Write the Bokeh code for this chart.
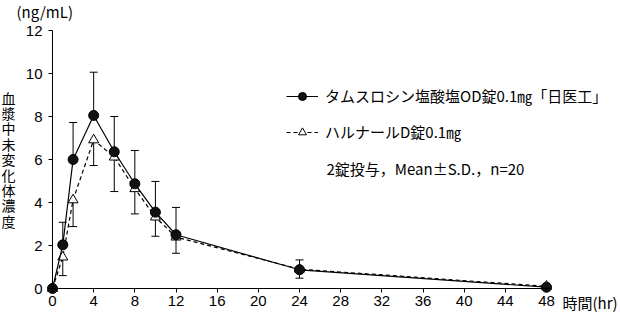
from bokeh.plotting import figure
from bokeh.models import (Range1d, Whisker, TeeHead, ColumnDataSource, Legend,
                          LegendItem, Label, FixedTicker)
from bokeh.embed import file_html
from bokeh.resources import INLINE

# ---- data ----
time_hr = [0, 1, 2, 4, 6, 8, 10, 12, 24, 48]
od_mean = [0.0, 2.03, 6.0, 8.05, 6.36, 4.87, 3.55, 2.5, 0.87, 0.06]
od_sd = [0.0, 1.05, 1.72, 2.01, 1.64, 1.55, 1.43, 1.27, 0.46, 0.0]
harnal_mean = [0.0, 1.46, 4.12, 6.91, 6.11, 4.64, 3.32, 2.39, 0.9, 0.1]
harnal_sd = [0.0, 0.86, 1.24, 1.19, 1.6, 1.17, 0.89, 0.75, 0.42, 0.0]
x_ticks = [0, 4, 8, 12, 16, 20, 24, 28, 32, 36, 40, 44, 48]
y_ticks = [0, 2, 4, 6, 8, 10, 12]
label_od = "タムスロシン塩酸塩OD錠0.1㎎「日医工」"
label_harnal = "ハルナールD錠0.1㎎"
note_text = "2錠投与，Mean±S.D.，n=20"
y_label = "血漿中未変化体濃度"
unit_label = "(ng/mL)"
x_label = "時間(hr)"

JP = "Noto Sans CJK JP"
NUM = "Liberation Sans"

src = ColumnDataSource(dict(
    t=time_hr,
    od=od_mean,
    od_up=[m + s for m, s in zip(od_mean, od_sd)],
    ha=harnal_mean,
    ha_lo=[m - s for m, s in zip(harnal_mean, harnal_sd)],
))

# frame spans the whole canvas; axes are drawn at data zero
X0, XS = 52.0, 494.0 / 48.0      # pixel of x=0, px per hour
Y0, YS = 288.0, 258.0 / 12.0     # pixel of y=0 (from top), px per ng/mL
W, H = 620, 313

p = figure(width=W, height=H, output_backend="svg", toolbar_location=None,
           x_range=Range1d(-X0 / XS, (W - X0) / XS),
           y_range=Range1d(-(H - Y0) / YS, Y0 / YS),
           min_border_left=0, min_border_right=0, min_border_top=0,
           min_border_bottom=0)
p.outline_line_color = None
p.xgrid.visible = False
p.ygrid.visible = False
p.background_fill_color = "white"
p.border_fill_color = "white"

for ax in (p.xaxis[0], p.yaxis[0]):
    ax.axis_line_color = "black"
    ax.axis_line_width = 1
    ax.major_tick_line_color = "black"
    ax.major_tick_out = 4
    ax.major_tick_in = 0
    ax.minor_tick_line_color = None
    ax.major_label_text_font = NUM
    ax.major_label_text_font_size = "15px"
    ax.major_label_text_color = "black"
    ax.fixed_location = 0

p.xaxis[0].ticker = FixedTicker(ticks=x_ticks)
p.yaxis[0].ticker = FixedTicker(ticks=y_ticks)
p.xaxis[0].bounds = (0, 48.4)
p.yaxis[0].bounds = (0, 12)
p.xaxis[0].major_label_standoff = 3
p.yaxis[0].major_label_standoff = 6

# error bars
p.add_layout(Whisker(source=src, base="t", lower="od", upper="od_up",
                     line_color="black", line_width=1, lower_head=None,
                     upper_head=TeeHead(size=8, line_color="black", line_width=1)))
p.add_layout(Whisker(source=src, base="t", lower="ha_lo", upper="ha",
                     line_color="black", line_width=1, upper_head=None,
                     lower_head=TeeHead(size=8, line_color="black", line_width=1)))

l2 = p.line("t", "ha", source=src, line_color="black", line_width=1.2, line_dash="4 3")
s2 = p.scatter("t", "ha", source=src, marker="triangle", size=10,
               fill_color="white", line_color="black", line_width=1)
l1 = p.line("t", "od", source=src, line_color="black", line_width=1.2)
s1 = p.scatter("t", "od", source=src, marker="circle", size=10,
               fill_color="#111111", line_color="black", line_width=1)

legend = Legend(items=[LegendItem(label=label_od, renderers=[l1, s1]),
                       LegendItem(label=label_harnal, renderers=[l2, s2])],
                location=(286, 171), orientation="vertical",
                glyph_width=32, glyph_height=20, label_height=20, spacing=15,
                padding=0, margin=0, border_line_color=None,
                background_fill_alpha=0, label_standoff=7,
                label_text_font=JP, label_text_font_size="15px",
                label_text_color="black")
p.add_layout(legend, "center")

def screen_label(x, y_from_top, text, **kw):
    p.add_layout(Label(x=x, y=H - y_from_top, x_units="screen", y_units="screen",
                       text=text, text_font=JP, text_color="black", **kw))

screen_label(326, 168, note_text, text_font_size="15px", text_baseline="middle")
screen_label(8, 87, "\n".join(y_label), text_font_size="14px",
             text_align="center", text_baseline="top", text_line_height=0.77)
screen_label(16, 11, unit_label, text_font_size="15px", text_baseline="middle")
screen_label(562, 302, x_label, text_font_size="15px", text_baseline="middle")

open("out.html", "w").write(file_html(p, INLINE))
